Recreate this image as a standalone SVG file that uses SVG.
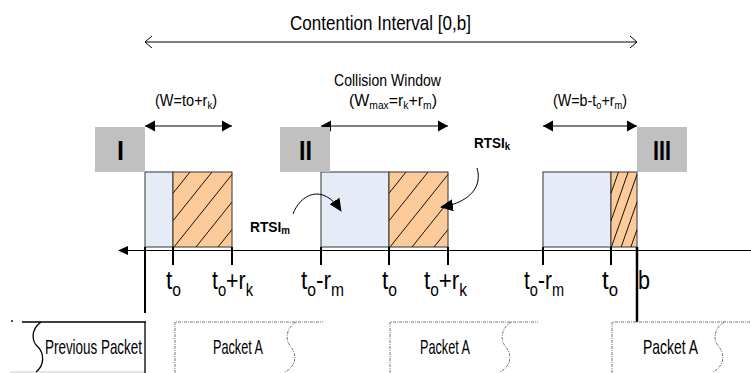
<svg xmlns="http://www.w3.org/2000/svg" width="751" height="373" viewBox="0 0 751 373">
<defs>
<style>
text{font-family:"Liberation Sans",Arial,sans-serif;fill:#000}
.lbl{font-size:17px}
.ttl{font-size:21px}
.ax{font-size:26px}
.num{font-size:28px;font-weight:bold}
.rts{font-size:14px;font-weight:bold}
.pkt{font-size:21px}
.gbox{fill:#C0C0C0}
.blue{fill:#E6ECF7;stroke:#333;stroke-width:1}
.orng{fill:#FDCB9A;stroke:#333;stroke-width:1}
.hatch{stroke:#111;stroke-width:1;fill:none}
.tick{stroke:#000;stroke-width:2;fill:none}
.line{stroke:#000;stroke-width:1;fill:none}
.pk{fill:none;stroke:#777;stroke-width:1;stroke-dasharray:3 1 1 1}
.prev{fill:none;stroke:#000;stroke-width:1.3}
</style>
<marker id="fa" markerWidth="11" markerHeight="12" refX="10" refY="6" orient="auto-start-reverse" markerUnits="userSpaceOnUse">
<path d="M0,0.5 L10,6 L0,11.5 Z" fill="#000"/>
</marker>
<marker id="oa" markerWidth="10" markerHeight="14" refX="8" refY="7" orient="auto-start-reverse" markerUnits="userSpaceOnUse">
<path d="M1,1 L8,7 L1,13" fill="none" stroke="#000" stroke-width="1"/>
</marker>
<marker id="ca" markerWidth="14" markerHeight="12" refX="12" refY="6" orient="auto" markerUnits="userSpaceOnUse">
<path d="M0,0 L13,6 L0,12 Z" fill="#000"/>
</marker>
</defs>

<g id="title">
<text class="ttl" x="290" y="30" textLength="181" lengthAdjust="spacingAndGlyphs">Contention Interval [0,b]</text>
</g>

<g id="labels-top">
<text class="lbl" x="155" y="106" textLength="62" lengthAdjust="spacingAndGlyphs">(W=to+r<tspan font-size="11" dy="3">k</tspan><tspan dy="-3">)</tspan></text>
<text class="lbl" x="334" y="86" textLength="107" lengthAdjust="spacingAndGlyphs">Collision Window</text>
<text class="lbl" x="349" y="106" textLength="88" lengthAdjust="spacingAndGlyphs">(W<tspan font-size="11" dy="3">max</tspan><tspan dy="-3">=r</tspan><tspan font-size="11" dy="3">k</tspan><tspan dy="-3">+r</tspan><tspan font-size="11" dy="3">m</tspan><tspan dy="-3">)</tspan></text>
<text class="lbl" x="553" y="106" textLength="74" lengthAdjust="spacingAndGlyphs">(W=b-t<tspan font-size="11" dy="3">o</tspan><tspan dy="-3">+r</tspan><tspan font-size="11" dy="3">m</tspan><tspan dy="-3">)</tspan></text>
</g>

<g id="slot1">
<rect class="blue" x="145" y="172" width="28" height="75"/>
<rect class="orng" x="173" y="172" width="59" height="75"/>
<path class="hatch" d="M190,172 L173,193.25 M212,172 L173,220.75 M232,174.5 L174,247 M232,202 L196,247 M232,229.5 L218,247"/>
</g>
<g id="slot2">
<rect class="blue" x="321" y="172" width="68" height="75"/>
<rect class="orng" x="389" y="172" width="59" height="75"/>
<path class="hatch" d="M406,172 L389,193.25 M428,172 L389,220.75 M448,174.5 L390,247 M448,202 L412,247 M448,229.5 L434,247"/>
</g>
<g id="slot3">
<rect class="blue" x="543" y="172" width="68" height="75"/>
<rect class="orng" x="611" y="172" width="26" height="75"/>
<path class="hatch" d="M618.5,172 L611,193.3 M628.2,172 L611,220.8 M637,174.5 L611.4,247 M637,202 L621.2,247 M637,229.6 L630.9,247"/>
</g>

<g id="connectors">
<path class="line" d="M145,42 H637" marker-start="url(#oa)" marker-end="url(#oa)"/>
<path class="line" d="M145,126 H232" marker-start="url(#fa)" marker-end="url(#fa)"/>
<path class="line" d="M321,126 H448" marker-start="url(#fa)" marker-end="url(#fa)"/>
<path class="line" d="M543,126 H637" marker-start="url(#fa)" marker-end="url(#fa)"/>
<path class="line" d="M293,214 C300,195 322,182 341,211" marker-end="url(#ca)"/>
<path class="line" d="M477,168 C483,188 468,203 441,207" marker-end="url(#ca)"/>
</g>

<g id="node-I">
<rect class="gbox" x="95" y="127" width="50" height="45"/>
<text class="num" x="117" y="160" textLength="7" lengthAdjust="spacingAndGlyphs">I</text>
</g>
<g id="node-II">
<rect class="gbox" x="280" y="127" width="50" height="45"/>
<text class="num" x="299" y="160" textLength="13" lengthAdjust="spacingAndGlyphs">II</text>
</g>
<g id="node-III">
<rect class="gbox" x="637" y="127" width="50" height="45"/>
<text class="num" x="653" y="160" textLength="18" lengthAdjust="spacingAndGlyphs">III</text>
</g>

<g id="rtsi-labels">
<text class="rts" x="474" y="148" textLength="36" lengthAdjust="spacingAndGlyphs">RTSI<tspan font-size="10" dy="2">k</tspan></text>
<text class="rts" x="250" y="232" textLength="40" lengthAdjust="spacingAndGlyphs">RTSI<tspan font-size="10" dy="2">m</tspan></text>
</g>

<g id="axis">
<path class="line" d="M126,250.5 H751"/>
<path d="M118,250.5 L128,246 L128,255 Z" fill="#000"/>
<path class="tick" d="M145,247 V313 M173,247 V265 M232,247 V265 M321,247 V265 M389,247 V265 M448,247 V265 M543,247 V265 M611,247 V265"/>
<path d="M637,247 V322" stroke="#000" stroke-width="2.5" fill="none"/>
</g>

<g id="axis-labels">
<text class="ax" x="166" y="289" textLength="15" lengthAdjust="spacingAndGlyphs">t<tspan font-size="18" dy="7">o</tspan></text>
<text class="ax" x="212" y="289" textLength="41" lengthAdjust="spacingAndGlyphs">t<tspan font-size="18" dy="7">o</tspan><tspan dy="-7">+r</tspan><tspan font-size="18" dy="7">k</tspan></text>
<text class="ax" x="301" y="289" textLength="43" lengthAdjust="spacingAndGlyphs">t<tspan font-size="18" dy="7">o</tspan><tspan dy="-7">-r</tspan><tspan font-size="18" dy="7">m</tspan></text>
<text class="ax" x="382" y="289" textLength="15" lengthAdjust="spacingAndGlyphs">t<tspan font-size="18" dy="7">o</tspan></text>
<text class="ax" x="424" y="289" textLength="43" lengthAdjust="spacingAndGlyphs">t<tspan font-size="18" dy="7">o</tspan><tspan dy="-7">+r</tspan><tspan font-size="18" dy="7">k</tspan></text>
<text class="ax" x="524" y="289" textLength="40" lengthAdjust="spacingAndGlyphs">t<tspan font-size="18" dy="7">o</tspan><tspan dy="-7">-r</tspan><tspan font-size="18" dy="7">m</tspan></text>
<text class="ax" x="602" y="289" textLength="16" lengthAdjust="spacingAndGlyphs">t<tspan font-size="18" dy="7">o</tspan></text>
<text class="ax" x="638" y="289" textLength="12" lengthAdjust="spacingAndGlyphs">b</text>
</g>

<g id="previous-packet">
<path d="M10,372 H145" stroke="#ccc" stroke-width="1" fill="none"/>
<circle cx="12" cy="321" r="0.9" fill="#000"/>
<path class="prev" d="M22,322 H146 M145,322 V373"/>
<path class="prev" d="M41,322 C30,330 32,342 38,347 C44,353 45,365 36,372"/>
<text class="pkt" x="45" y="354" textLength="97" lengthAdjust="spacingAndGlyphs">Previous Packet</text>
</g>

<g id="packet-a-1">
<path class="pk" d="M175,373 V322 H323"/>
<path class="pk" d="M296,322 C284,330 286,342 291,347 C296,353 298,365 285,372"/>
<text class="pkt" x="213" y="354" textLength="50" lengthAdjust="spacingAndGlyphs">Packet A</text>
</g>
<g id="packet-a-2">
<path class="pk" d="M390,373 V322 H538"/>
<path class="pk" d="M511,322 C499,330 501,342 506,347 C511,353 513,365 500,372"/>
<text class="pkt" x="420" y="354" textLength="50" lengthAdjust="spacingAndGlyphs">Packet A</text>
</g>
<g id="packet-a-3">
<path class="pk" d="M612,373 V322 H751"/>
<path class="pk" d="M724,322 C712,330 714,342 719,347 C724,353 726,365 713,372"/>
<text class="pkt" x="643" y="354" textLength="55" lengthAdjust="spacingAndGlyphs">Packet A</text>
</g>
</svg>
